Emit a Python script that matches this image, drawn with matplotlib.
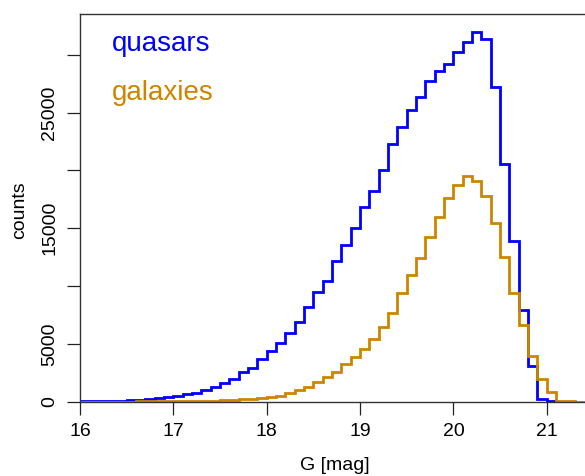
import numpy as np
import matplotlib
matplotlib.use("Agg")
import matplotlib.pyplot as plt

plt.rcParams['font.family'] = ['Liberation Sans', 'DejaVu Sans']

# bin edges: 0.1 mag bins from G = 16.0
bin_start = 16.0
bin_width = 0.1

quasars = [30, 40, 50, 70, 100, 130, 170, 230, 290, 380,
           490, 640, 780, 1040, 1300, 1660, 2000, 2540, 2890, 3670,
           4390, 5050, 5970, 6870, 8150, 9470, 10440, 12170, 13560, 15060,
           16870, 18260, 20050, 22270, 23770, 25240, 26340, 27720, 28640, 29220,
           30200, 31120, 31930, 31380, 27230, 20540, 13900, 7935, 3130, 250,
           20, 10]

galaxies = [5, 5, 8, 10, 12, 15, 18, 22, 27, 32,
            38, 45, 55, 65, 90, 120, 160, 200, 260, 320,
            410, 520, 730, 1010, 1300, 1730, 2110, 2600, 3260, 3840,
            4560, 5400, 6470, 7670, 9380, 10960, 12400, 14220, 15980, 17650,
            18780, 19530, 19120, 17800, 15490, 12550, 9380, 6640, 3950, 1990,
            840, 90, 25, 10, 5]

yticks = [0, 5000, 10000, 15000, 20000, 25000, 30000]
ytick_labels = ["0", "5000", "", "15000", "", "25000", ""]
xticks = [16, 17, 18, 19, 20, 21]

blue = "#0000FF"
orange = "#CD8500"

W, H = 585, 476
fig = plt.figure(figsize=(W / 100, H / 100), dpi=100)
ax = fig.add_axes([80 / W, 74.3 / H, 513.4 / W, 387.7 / H])

q_edges = bin_start + bin_width * np.arange(len(quasars) + 1)
g_edges = bin_start + bin_width * np.arange(len(galaxies) + 1)
ax.stairs(quasars, q_edges, baseline=None, color=blue, lw=2.0)
ax.stairs(galaxies, g_edges, baseline=None, color=orange, lw=2.0)

ax.set_xlim(16, 21.5)
ax.set_ylim(0, max(quasars) * 1.05)

ax.set_xticks(xticks)
ax.set_yticks(yticks)
ax.set_yticklabels(ytick_labels, rotation=90, va="center")
ax.tick_params(direction="out", length=9.5, width=0.9, colors="#222222",
               labelsize=14, labelcolor="black")
ax.tick_params(axis="x", pad=6)
ax.tick_params(axis="y", pad=6)

for side in ["left", "top", "bottom", "right"]:
    ax.spines[side].set_color("#333333")
    ax.spines[side].set_linewidth(1.0)

# axis titles placed in figure pixels (from top-left)
fig.text(335 / W, 1 - 466 / H, "G [mag]", fontsize=14, ha="center", va="center")
fig.text(20 / W, 1 - 210 / H, "counts", fontsize=14, rotation=90,
         ha="center", va="center")

ax.text(16.34, 30350, "quasars", color=blue, fontsize=20, va="baseline")
ax.text(16.34, 26050, "galaxies", color=orange, fontsize=20, va="baseline")

fig.savefig("out.png", dpi=100)
